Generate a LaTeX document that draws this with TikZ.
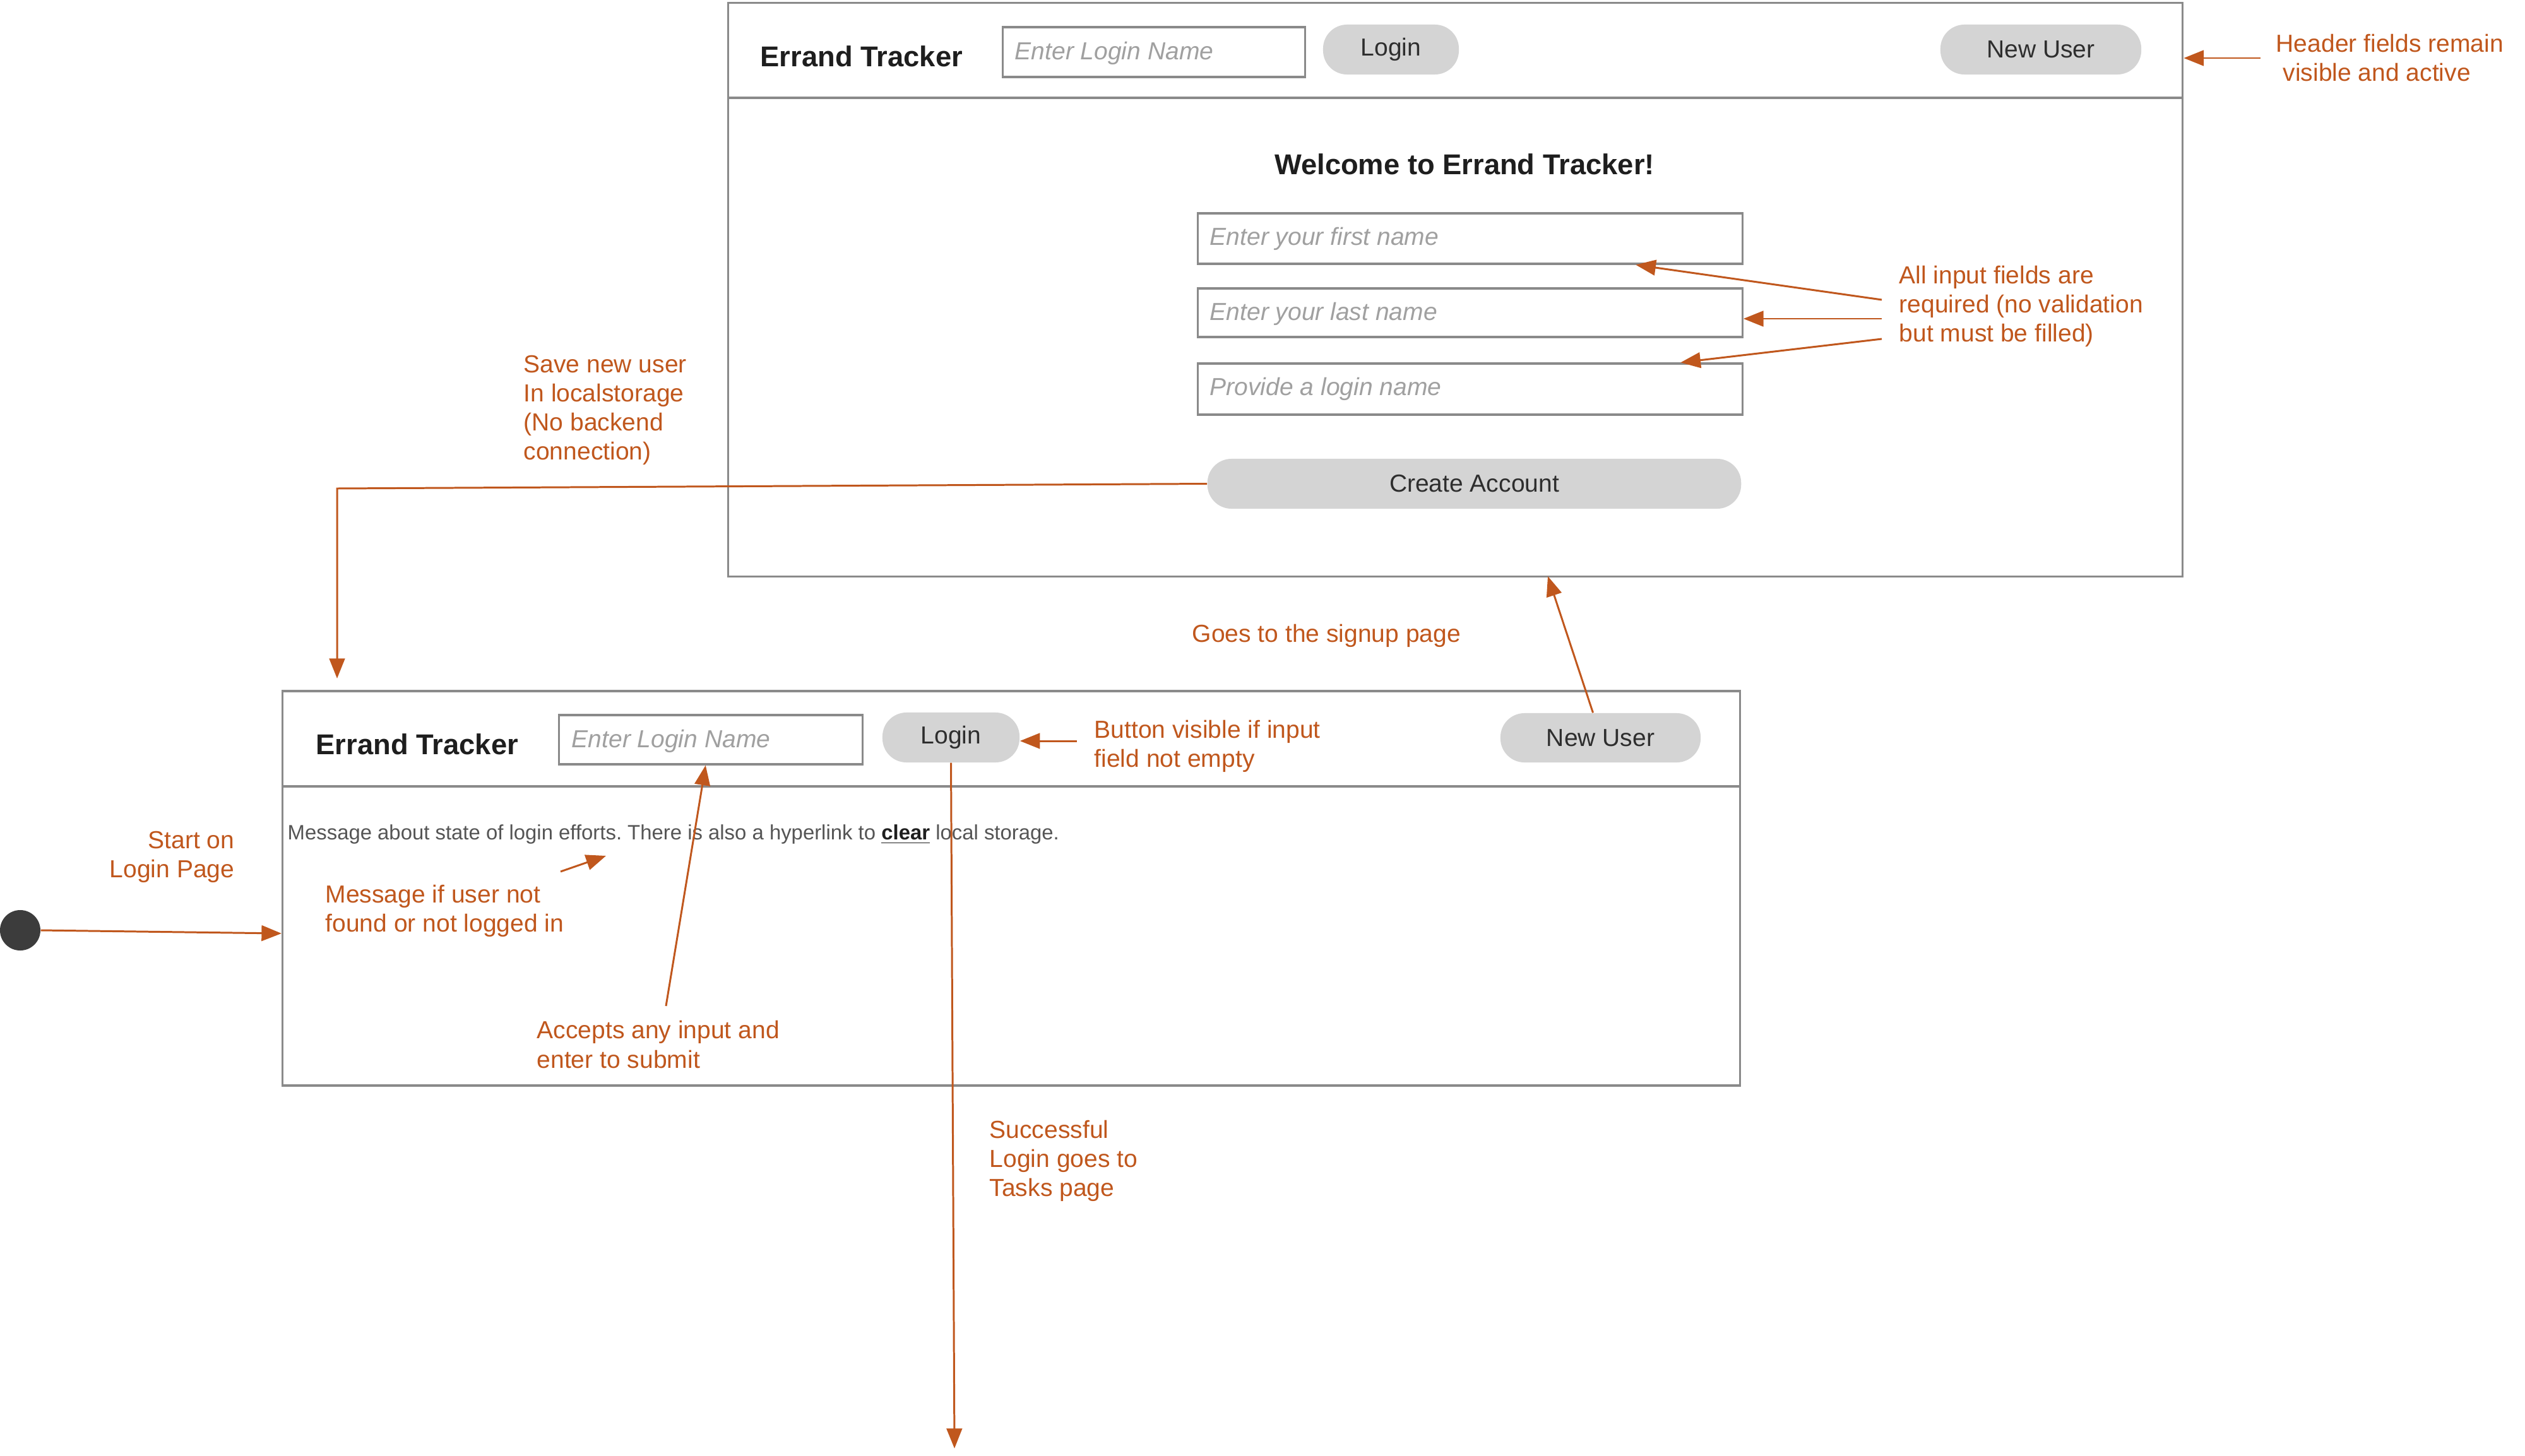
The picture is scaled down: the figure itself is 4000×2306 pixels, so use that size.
\documentclass[tikz,border=0pt]{standalone}
\usepackage{fontspec}
\setmainfont{Liberation Sans}
\usetikzlibrary{arrows.meta,calc}
\definecolor{notec}{HTML}{C0571D}
\definecolor{boxgray}{HTML}{8A8A8A}
\definecolor{btngray}{HTML}{D4D4D4}
\definecolor{phgray}{HTML}{A0A0A0}
\definecolor{txtdark}{HTML}{1E1E1E}
\definecolor{btntxt}{HTML}{2E2E2E}
\definecolor{msggray}{HTML}{555555}
\definecolor{dotc}{HTML}{3C3C3C}
\tikzset{
  frame/.style={draw=boxgray, line width=1pt, fill=white, inner sep=0pt},
  sepline/.style={draw=boxgray, line width=1pt},
  inbox/.style={draw=boxgray, line width=0.9pt, fill=white, inner sep=0pt},
  phtext/.style={text=phgray, font=\fontsize{11.1}{13.1}\selectfont\itshape, inner sep=0pt, anchor=base west},
  btn/.style={fill=btngray, rounded corners=0.38cm, inner sep=0pt, text=btntxt, font=\fontsize{11.1}{13.1}\selectfont},
  titletext/.style={text=txtdark, font=\fontsize{12.9}{15}\selectfont\bfseries, inner sep=0pt},
  note/.style={text=notec, font=\fontsize{11.1}{13.1}\selectfont, inner sep=0pt},
  arr/.style={draw=notec, line width=0.85pt, -{Triangle[length=9pt,width=7pt]}},
}
\begin{document}
\frenchspacing
\begin{tikzpicture}[x=0.01cm,y=-0.01cm]
\useasboundingbox (0,0) rectangle (4000,2306);

% ===== Sign-up page (top) =====
\node[frame, minimum width=23.03cm, minimum height=9.08cm] (signup) at (2305.5,459) {};
\draw[sepline] (1154,155) -- (3457,155);
\node[titletext, anchor=base west] (title1) at (1204,106) {Errand Tracker};
\node[inbox, minimum width=4.78cm, minimum height=0.79cm] (in1) at (1828,82.5) {};
\node[phtext] (ph1) at (1607,95) {Enter Login Name};
\node[btn, minimum width=2.15cm, minimum height=0.79cm] (login1) at (2203.5,78.5) {Login};
\node[btn, minimum width=3.18cm, minimum height=0.79cm] (newuser1) at (3233,78.5) {New User};
\node[titletext, anchor=base] (welcome) at (2320,277) {Welcome to Errand Tracker!};
\node[inbox, minimum width=8.62cm, minimum height=0.80cm] (first) at (2329,378) {};
\node[phtext] (phfirst) at (1916,388) {Enter your first name};
\node[inbox, minimum width=8.62cm, minimum height=0.77cm] (last) at (2329,495.5) {};
\node[phtext] (phlast) at (1916,507) {Enter your last name};
\node[inbox, minimum width=8.62cm, minimum height=0.81cm] (loginname) at (2329,616.5) {};
\node[phtext] (phlogin) at (1916,626) {Provide a login name};
\node[btn, minimum width=8.45cm, minimum height=0.79cm] (create) at (2335.5,766.5) {Create Account};

% ===== Login page (bottom) =====
\node[frame, minimum width=23.08cm, minimum height=6.25cm] (loginpage) at (1602,1407.5) {};
\draw[sepline] (448,1246) -- (2756,1246);
\node[titletext, anchor=base west] (title2) at (500,1195) {Errand Tracker};
\node[inbox, minimum width=4.80cm, minimum height=0.78cm] (in2) at (1126,1172) {};
\node[phtext] (ph2) at (905,1184) {Enter Login Name};
\node[btn, minimum width=2.17cm, minimum height=0.79cm] (login2) at (1506.5,1168.5) {Login};
\node[btn, minimum width=3.17cm, minimum height=0.78cm] (newuser2) at (2535.5,1169) {New User};
\node[text=msggray, font=\fontsize{9.35}{11}\selectfont, inner sep=0pt, anchor=base west] (msg) at (455,1330)
  {Message about state of login efforts. There is also a hyperlink to \textcolor{txtdark}{\underline{\textbf{clear}}} local storage.};

% ===== start dot =====
\node[circle, fill=dotc, inner sep=0pt, minimum size=0.64cm] (start) at (32,1474) {};

% ===== annotations =====
\node[note, align=left, anchor=west] (hdrnote) at (3605,92) {Header fields remain\\\hspace{0.28em}visible and active};
\node[note, align=left, anchor=west] (allnote) at (3008,485) {All input fields are\\required (no validation\\but must be filled)};
\node[note, align=left, anchor=west] (savenote) at (829,650) {Save new user\\In localstorage\\(No backend\\connection)};
\node[note, anchor=west] (gonote) at (1888,1007) {Goes to the signup page};
\node[note, align=left, anchor=west] (btnnote) at (1733,1182) {Button visible if input\\field not empty};
\node[note, align=right, anchor=east] (startnote) at (372,1358) {Start on\\Login Page};
\node[note, align=left, anchor=west] (msgnote) at (515,1443) {Message if user not\\found or not logged in};
\node[note, align=left, anchor=west] (accnote) at (850,1655) {Accepts any input and\\enter to submit};
\node[note, align=left, anchor=west] (succnote) at (1567,1839) {Successful\\Login goes to\\Tasks page};

% ===== connectors =====
\coordinate (hy) at (3581,92);
\draw[arr] (hy) -- (signup.east |- hy);

\coordinate (a1) at (2981,475);
\coordinate (a2) at (2981,505);
\coordinate (a3) at (2981,537);
\draw[arr] (a1) -- ($(first.south west)!0.803!(first.south east)$);
\draw[arr] (a2) -- (a2 -| last.east);
\draw[arr] (a3) -- ($(loginname.north west)!0.885!(loginname.north east)$);

\coordinate (c1) at (534,774);
\coordinate (c2) at (534,1075);
\draw[arr] (create.west) -- (c1) -- (c2);

\coordinate (gtip) at (2452,913);
\draw[arr] ($(newuser2.north)+(-12,0)$) -- (gtip);

\coordinate (bvis) at (1706,1174);
\draw[arr] (bvis) -- (login2.east |- bvis);

\coordinate (stip) at (446,1479);
\draw[arr] (start.east) -- (stip);

\coordinate (m1) at (888,1381);
\coordinate (m2) at (960,1356);
\draw[arr] (m1) -- (m2);

\coordinate (acc) at (1055,1594);
\draw[arr] (acc) -- ($(in2.south west)!0.483!(in2.south east)$);

\coordinate (ttip) at (1512,2295);
\draw[arr] (login2.south) -- (ttip);
\end{tikzpicture}
\end{document}
